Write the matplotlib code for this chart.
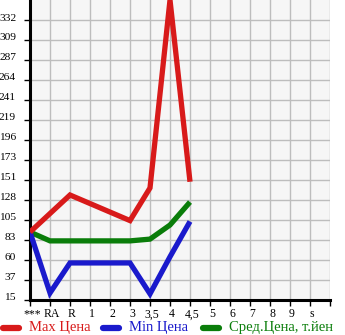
import matplotlib
matplotlib.use("Agg")
import matplotlib.pyplot as plt
import matplotlib.transforms as mtransforms
from matplotlib.lines import Line2D

categories = ["***", "RA", "R", "1", "2", "3", "3,5", "4", "4,5", "5", "6", "7", "8", "9", "s"]
max_price = [92, None, 134, None, None, 105, 142, 355, 149, None, None, None, None, None, None]
min_price = [92, 23, 57, 57, 57, 57, 22, 64, 104, None, None, None, None, None, None]
avg_price = [92, 82, 82, 82, 82, 82, 84, 100, 126, None, None, None, None, None, None]
y_ticks = [15 + k * 340 / 15 for k in range(16)]
y_tick_labels = [str(int(v)) for v in y_ticks]
legend_labels = ["Max Цена", "Min Цена", "Сред.Цена, т.йен"]

colors = ["#d81a1a", "#1a1acc", "#0a7d0a"]
W, H = 345, 335
fig = plt.figure(figsize=(W / 100, H / 100), dpi=100)
fig.patch.set_facecolor("white")
ax = fig.add_axes([30 / W, 35 / H, 300 / W, 300 / H])
ax.set_facecolor("#f6f6f6")

font = "Liberation Serif"

def plot_series(vals, color):
    xs = [i for i, v in enumerate(vals) if v is not None]
    ys = [v for v in vals if v is not None]
    ax.plot(xs, ys, color=color, lw=3.8, solid_joinstyle="miter", solid_capstyle="butt",
            zorder=3)

plot_series(avg_price, colors[2])
plot_series(min_price, colors[1])
plot_series(max_price, colors[0])

ax.set_xlim(0, 15)
ax.set_ylim(15, 355)
ax.set_xticks(range(16))
ax.set_xticklabels(categories + [""], fontname=font, fontsize=8.5)
ax.set_yticks(y_ticks[:-1])
ax.set_yticklabels(y_tick_labels[:-1], fontname=font, fontsize=8.2)
ax.grid(True, color="#bdbdbd", lw=1)
ax.set_axisbelow(True)
for s in ["top", "right"]:
    ax.spines[s].set_visible(False)
for s in ["left", "bottom"]:
    ax.spines[s].set_linewidth(2.2)
    ax.spines[s].set_color("black")
ax.tick_params(axis="y", length=4, width=1, pad=6, colors="black")
ax.tick_params(axis="x", length=4, width=1, pad=2, colors="black")
offset = mtransforms.ScaledTranslation(0, 3 / 100, fig.dpi_scale_trans)
for lab in ax.get_yticklabels():
    lab.set_transform(lab.get_transform() + offset)
offx = mtransforms.ScaledTranslation(2 / 100, 0, fig.dpi_scale_trans)
for lab in ax.get_xticklabels():
    lab.set_transform(lab.get_transform() + offx)

# legend
ly = 1 - 328 / H
starts = [0, 100, 200]
for st, lab, c in zip(starts, legend_labels, colors):
    fig.add_artist(Line2D([(st + 3) / W, (st + 19) / W], [ly, ly], color=c, lw=4.5,
                          solid_capstyle="round", transform=fig.transFigure))
    fig.text((st + 29) / W, ly, lab, color=c, fontname=font, fontsize=10.5,
             va="center", ha="left")

fig.savefig("out.png", dpi=100, facecolor="white")
